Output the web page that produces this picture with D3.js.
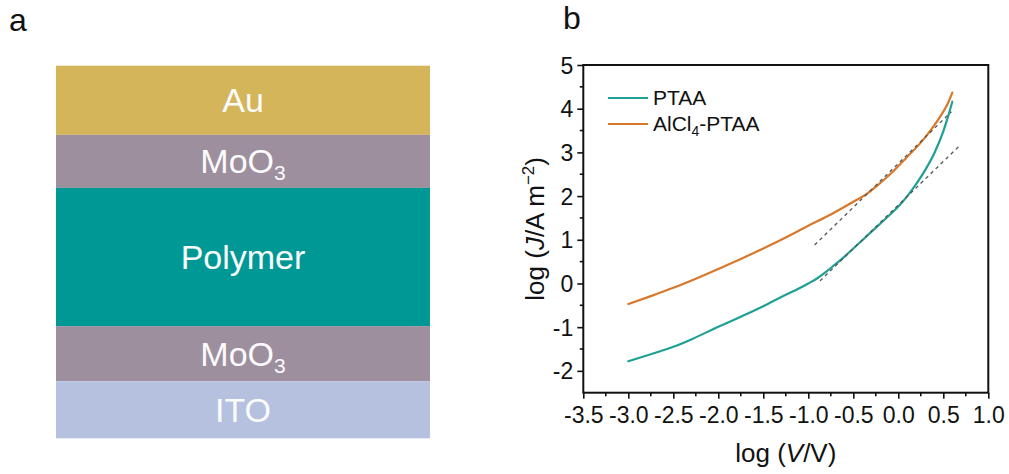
<!DOCTYPE html>
<html>
<head>
<meta charset="utf-8">
<script src="https://cdn.jsdelivr.net/npm/d3@7"></script>
<style>
  body { margin: 0; background: #fff; }
  svg { display: block; }
  text { font-family: "Liberation Sans", Arial, Helvetica, sans-serif; }
</style>
</head>
<body>
<svg id="fig" width="1009" height="474"></svg>
<script>
// ---- panel a: device stack (top to bottom), relative layer thickness ----
const layerNames = ["Au", "MoO3", "Polymer", "MoO3", "ITO"];
const layerThickness = [69, 53, 138, 55, 57];

// ---- panel b: J–V characteristics on log–log axes ----
const seriesNames = ["PTAA", "AlCl4-PTAA"];
const logV_PTAA = [-3.0, -2.75, -2.5, -2.3, -2.0, -1.75, -1.5, -1.3, -1.1, -1.0, -0.9, -0.8, -0.7, -0.6, -0.5, -0.3, -0.1, 0.0, 0.1, 0.2, 0.3, 0.4, 0.5, 0.55, 0.6];
const logJ_PTAA = [-1.78, -1.62, -1.45, -1.28, -0.99, -0.76, -0.52, -0.31, -0.11, 0.0, 0.12, 0.27, 0.44, 0.61, 0.80, 1.18, 1.56, 1.76, 2.00, 2.28, 2.60, 2.98, 3.48, 3.80, 4.16];
const logV_AlCl4 = [-3.0, -2.75, -2.5, -2.25, -2.0, -1.75, -1.5, -1.25, -1.0, -0.75, -0.5, -0.35, -0.2, -0.05, 0.1, 0.24, 0.35, 0.46, 0.55, 0.6];
const logJ_AlCl4 = [-0.47, -0.29, -0.10, 0.11, 0.33, 0.56, 0.80, 1.05, 1.32, 1.58, 1.87, 2.05, 2.30, 2.58, 2.90, 3.20, 3.48, 3.80, 4.12, 4.37];

// slope-2 (SCLC) guide lines: endpoints in log V / log J
const fitV_PTAA = [-0.87, 0.685];
const fitJ_PTAA = [0.06, 3.16];
const fitV_AlCl4 = [-0.93, 0.59];
const fitJ_AlCl4 = [0.88, 3.93];

const xTicks = [-3.5, -3.0, -2.5, -2.0, -1.5, -1.0, -0.5, 0.0, 0.5, 1.0];
const yTicks = [-2, -1, 0, 1, 2, 3, 4, 5];
const xMinorTicks = [-3.25, -2.75, -2.25, -1.75, -1.25, -0.75, -0.25, 0.25, 0.75];
const yMinorTicks = [-1.5, -0.5, 0.5, 1.5, 2.5, 3.5, 4.5];

// styles
const layerColors = ["#d4b55a", "#9e8f9e", "#009895", "#9e8f9e", "#b6c1e0"];
const seriesColors = ["#1fa094", "#d8782a"];

const svg = d3.select("#fig");

// panel letters
svg.append("text").attr("x", 9).attr("y", 31).attr("font-size", 32).attr("fill", "#111").text("a");
svg.append("text").attr("x", 563).attr("y", 29).attr("font-size", 32).attr("fill", "#111").text("b");

// ---------- panel a ----------
const stackTop = d3.cumsum([0].concat(layerThickness));
const yStack = d3.scaleLinear().domain([0, d3.sum(layerThickness)]).range([65.7, 438.3]);
const xStack = [56, 430];

const layers = svg.append("g").selectAll("g")
  .data(layerNames.map((n, i) => ({ name: n, y0: stackTop[i], y1: stackTop[i + 1], color: layerColors[i] })))
  .join("g");

layers.append("rect")
  .attr("x", xStack[0])
  .attr("width", xStack[1] - xStack[0])
  .attr("y", d => yStack(d.y0))
  .attr("height", d => yStack(d.y1) - yStack(d.y0))
  .attr("fill", d => d.color);

layers.each(function (d) {
  const cy = (yStack(d.y0) + yStack(d.y1)) / 2;
  const t = d3.select(this).append("text")
    .attr("x", (xStack[0] + xStack[1]) / 2)
    .attr("y", cy + 12)
    .attr("text-anchor", "middle")
    .attr("font-size", 34)
    .attr("fill", "#fbfbfb");
  const m = d.name.match(/^(.*?)(\d+)$/);
  if (m) {
    t.append("tspan").text(m[1]);
    t.append("tspan").attr("font-size", 21).attr("dy", 7).text(m[2]);
  } else {
    t.text(d.name);
  }
});

// ---------- panel b ----------
const plotL = 583.3, plotR = 988.3, plotT = 65, plotB = 392.7;
const x = d3.scaleLinear().domain([-3.5, 1.0]).range([plotL, plotR]);
const y = d3.scaleLinear().domain([-2.5, 5]).range([plotB, plotT]);

const axisColor = "#111";

// minor ticks
svg.append("g").selectAll("line").data(xMinorTicks).join("line")
  .attr("x1", d => x(d)).attr("x2", d => x(d))
  .attr("y1", plotB).attr("y2", plotB + 3.5)
  .attr("stroke", axisColor).attr("stroke-width", 1.6);
svg.append("g").selectAll("line").data(yMinorTicks).join("line")
  .attr("y1", d => y(d)).attr("y2", d => y(d))
  .attr("x1", plotL).attr("x2", plotL - 3.5)
  .attr("stroke", axisColor).attr("stroke-width", 1.6);

// bottom axis
const gx = svg.append("g").attr("transform", `translate(0,${plotB})`)
  .call(d3.axisBottom(x).tickValues(xTicks).tickFormat(d => d.toFixed(1)).tickSize(6).tickSizeOuter(0));
gx.select(".domain").remove();
gx.selectAll(".tick line").attr("stroke", axisColor).attr("stroke-width", 1.6);
gx.selectAll(".tick text").attr("y", 30.5).attr("dy", 0)
  .attr("font-size", 23).attr("fill", "#111")
  .style("font-family", "'Liberation Sans', Arial, sans-serif");

// left axis
const gy = svg.append("g").attr("transform", `translate(${plotL},0)`)
  .call(d3.axisLeft(y).tickValues(yTicks).tickFormat(d => String(d)).tickSize(6).tickSizeOuter(0));
gy.select(".domain").remove();
gy.selectAll(".tick line").attr("stroke", axisColor).attr("stroke-width", 1.6);
gy.selectAll(".tick text").attr("x", -10).attr("dy", "0.35em")
  .attr("font-size", 23).attr("fill", "#111")
  .style("font-family", "'Liberation Sans', Arial, sans-serif");

// frame
svg.append("rect")
  .attr("x", plotL).attr("y", plotT)
  .attr("width", plotR - plotL).attr("height", plotB - plotT)
  .attr("fill", "none").attr("stroke", axisColor).attr("stroke-width", 2);

// curves
const line = d3.line().x(d => x(d[0])).y(d => y(d[1])).curve(d3.curveMonotoneX);
const curves = [
  { pts: d3.zip(logV_PTAA, logJ_PTAA), color: seriesColors[0] },
  { pts: d3.zip(logV_AlCl4, logJ_AlCl4), color: seriesColors[1] }
];
svg.append("g").selectAll("path").data(curves).join("path")
  .attr("d", d => line(d.pts))
  .attr("fill", "none")
  .attr("stroke", d => d.color)
  .attr("stroke-width", 2.2)
  .attr("stroke-linejoin", "round")
  .attr("stroke-linecap", "round");

// slope guides
const fits = [d3.zip(fitV_PTAA, fitJ_PTAA), d3.zip(fitV_AlCl4, fitJ_AlCl4)];
svg.append("g").selectAll("path").data(fits).join("path")
  .attr("d", d3.line().x(d => x(d[0])).y(d => y(d[1])))
  .attr("fill", "none")
  .attr("stroke", "#555")
  .attr("stroke-width", 1.3)
  .attr("stroke-dasharray", "3.5,3.5");

// legend
const legend = svg.append("g").selectAll("g").data(seriesNames).join("g")
  .attr("transform", (d, i) => `translate(608,${98 + i * 26})`);
legend.append("line")
  .attr("x1", 0).attr("x2", 40)
  .attr("stroke", (d, i) => seriesColors[i]).attr("stroke-width", 2.2);
legend.each(function (d) {
  const t = d3.select(this).append("text")
    .attr("x", 45).attr("y", 7)
    .attr("font-size", 21).attr("fill", "#111");
  const m = d.match(/^([A-Za-z]+)(\d+)(.*)$/);
  if (m) {
    t.append("tspan").text(m[1]);
    t.append("tspan").attr("font-size", 14).attr("dy", 5).text(m[2]);
    t.append("tspan").attr("dy", -5).text(m[3]);
  } else {
    t.text(d);
  }
});

// axis titles
const xt = svg.append("text")
  .attr("x", (plotL + plotR) / 2).attr("y", 462)
  .attr("text-anchor", "middle").attr("font-size", 26).attr("fill", "#111");
xt.append("tspan").text("log (");
xt.append("tspan").attr("font-style", "italic").text("V");
xt.append("tspan").text("/V)");

const yt = svg.append("text")
  .attr("transform", `translate(544,${(plotT + plotB) / 2}) rotate(-90)`)
  .attr("text-anchor", "middle").attr("font-size", 26).attr("fill", "#111");
yt.append("tspan").text("log (");
yt.append("tspan").attr("font-style", "italic").text("J");
yt.append("tspan").text("/A m");
yt.append("tspan").attr("font-size", 17).attr("dy", -10).text("\u22122");
yt.append("tspan").attr("dy", 10).text(")");
</script>
</body>
</html>
